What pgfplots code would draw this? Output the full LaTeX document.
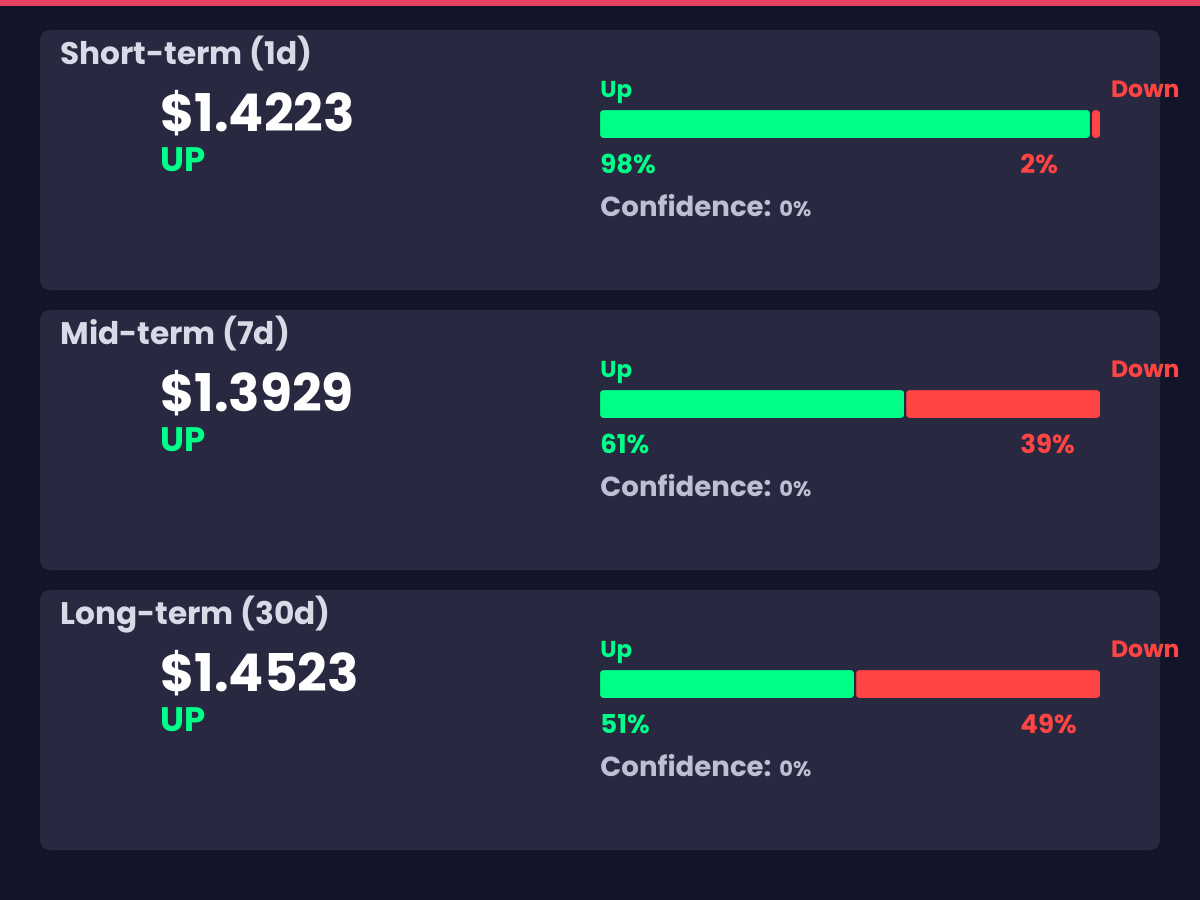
\documentclass[border=0pt]{standalone}
\usepackage{fontspec}
\setmainfont{Poppins}
\usepackage{pgfplots}
\pgfplotsset{compat=1.18}
\definecolor{bg}{HTML}{13132A}
\definecolor{panelc}{HTML}{282840}
\definecolor{topbar}{HTML}{E84262}
\definecolor{upc}{HTML}{00FF88}
\definecolor{dnc}{HTML}{FF4444}
\definecolor{titlec}{HTML}{DADAE6}
\definecolor{confc}{HTML}{BEBED4}
\tikzset{
  ttl/.style={anchor=base west,inner sep=0,text=titlec,font=\fontsize{15.6}{18}\selectfont\bfseries},
  prc/.style={anchor=base west,inner sep=0,text=white,font=\fontsize{26}{30}\selectfont\bfseries},
  dir/.style={anchor=base west,inner sep=0,text=upc,font=\fontsize{17}{20}\selectfont\bfseries},
  upl/.style={anchor=base west,inner sep=0,text=upc,font=\fontsize{11.5}{13}\selectfont\bfseries},
  dnl/.style={anchor=base east,inner sep=0,text=dnc,font=\fontsize{11.8}{13}\selectfont\bfseries},
  upp/.style={anchor=base west,inner sep=0,text=upc,font=\fontsize{13}{15}\selectfont\bfseries},
  dnp/.style={anchor=base west,inner sep=0,text=dnc,font=\fontsize{13}{15}\selectfont\bfseries},
  conf/.style={anchor=base west,inner sep=0,text=confc,font=\fontsize{13.8}{17}\selectfont\bfseries},
}
\pgfplotsset{barax/.style={anchor=south west, scale only axis,
      width=251pt, height=14pt, xmin=0, xmax=100, ymin=0.5, ymax=1.5,
      hide axis, xbar stacked, bar width=15pt, clip=false},
  upbar/.style={fill=upc, draw=panelc, line width=1pt, rounded corners=2pt},
  dnbar/.style={fill=dnc, draw=panelc, line width=1pt, rounded corners=2pt}}
\begin{document}
\begin{tikzpicture}
\begin{scope}[x=0.5pt,y=-0.5pt]
\useasboundingbox (0,0) rectangle (1200,900);
\fill[bg] (0,0) rectangle (1200,900);
\fill[topbar] (0,0) rectangle (1200,6);
% panel 1
\fill[panelc,rounded corners=5pt] (40,30) rectangle (1160,290);
\node[ttl] at (60,64) {Short-term (1d)};
\node[prc] at (160,131) {\$1.4223};
\node[dir] at (160,171) {UP};
\node[upl] at (600,97) {Up};
\node[dnl] at (1180,97) {Down};
\node[upp] at (600,173) {98\%};
\node[dnp] at (1020,173) {2\%};
\node[conf] at (600,216) {Confidence: {\fontsize{10.5}{12}\selectfont 0\%}};
% panel 2
\fill[panelc,rounded corners=5pt] (40,310) rectangle (1160,570);
\node[ttl] at (60,344) {Mid-term (7d)};
\node[prc] at (160,411) {\$1.3929};
\node[dir] at (160,451) {UP};
\node[upl] at (600,377) {Up};
\node[dnl] at (1180,377) {Down};
\node[upp] at (600,453) {61\%};
\node[dnp] at (1020,453) {39\%};
\node[conf] at (600,496) {Confidence: {\fontsize{10.5}{12}\selectfont 0\%}};
% panel 3
\fill[panelc,rounded corners=5pt] (40,590) rectangle (1160,850);
\node[ttl] at (60,624) {Long-term (30d)};
\node[prc] at (160,691) {\$1.4523};
\node[dir] at (160,731) {UP};
\node[upl] at (600,657) {Up};
\node[dnl] at (1180,657) {Down};
\node[upp] at (600,733) {51\%};
\node[dnp] at (1020,733) {49\%};
\node[conf] at (600,776) {Confidence: {\fontsize{10.5}{12}\selectfont 0\%}};
\end{scope}
\begin{axis}[barax, at={(299.5pt,-69pt)}]
\addplot[upbar] coordinates {(98,1)};
\addplot[dnbar] coordinates {(2,1)};
\end{axis}
\begin{axis}[barax, at={(299.5pt,-209pt)}]
\addplot[upbar] coordinates {(61,1)};
\addplot[dnbar] coordinates {(39,1)};
\end{axis}
\begin{axis}[barax, at={(299.5pt,-349pt)}]
\addplot[upbar] coordinates {(51,1)};
\addplot[dnbar] coordinates {(49,1)};
\end{axis}
\end{tikzpicture}
\end{document}
